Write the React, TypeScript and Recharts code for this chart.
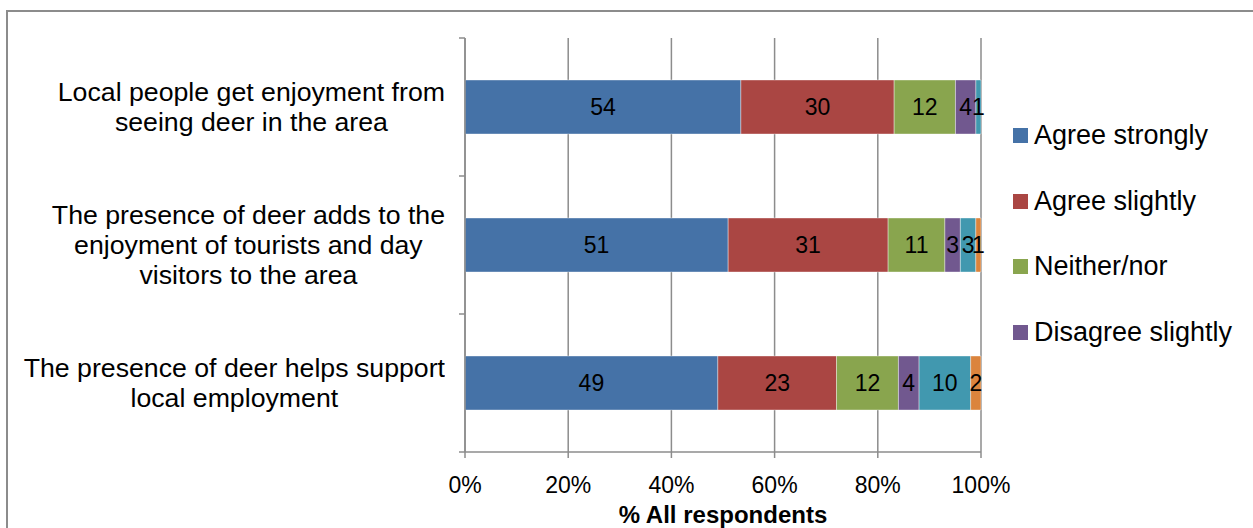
import { Bar, BarChart, CartesianGrid, LabelList, XAxis, YAxis } from 'recharts'

const statements = [
	'Local people get enjoyment from\nseeing deer in the area',
	'The presence of deer adds to the\nenjoyment of tourists and day\nvisitors to the area',
	'The presence of deer helps support\nlocal employment'
]

const agreeStrongly = [54, 51, 49]
const agreeSlightly = [30, 31, 23]
const neitherNor = [12, 11, 12]
const disagreeSlightly = [4, 3, 4]
const disagreeStrongly = [1, 3, 10]
const dontKnow = [0, 1, 2]

const percentTicks = [0, 0.2, 0.4, 0.6, 0.8, 1]

const series = [
	{ key: 'agreeStrongly', name: 'Agree strongly', color: '#4572A7', values: agreeStrongly },
	{ key: 'agreeSlightly', name: 'Agree slightly', color: '#AA4643', values: agreeSlightly },
	{ key: 'neitherNor', name: 'Neither/nor', color: '#89A54E', values: neitherNor },
	{ key: 'disagreeSlightly', name: 'Disagree slightly', color: '#71588F', values: disagreeSlightly },
	{ key: 'disagreeStrongly', name: 'Disagree strongly', color: '#4198AF', values: disagreeStrongly },
	{ key: 'dontKnow', name: "Don't know", color: '#DB843D', values: dontKnow }
]

// only the first four entries fit in the legend box
const legendSeries = series.slice(0, 4)

const rows = statements.map((statement, i) => {
	const row: Record<string, string | number> = { statement }
	series.forEach(s => {
		row[s.key] = s.values[i]
	})
	return row
})

const GREY = '#8c8c8c'
const FONT = '"Liberation Sans", Arial, sans-serif'

// statement text: centred lines, block pushed right against the axis;
// tick marks sit on the band edges
function StatementTick(props: any) {
	const { x, y, payload, index, visibleTicksCount } = props
	const lines = String(payload.value).split('\n')
	const half = payload.offset ?? 0
	const lineGap = 30
	const boxH = lines.length * lineGap
	return (
		<g>
			<line x1={x - 6} x2={x} y1={y - half} y2={y - half} stroke={GREY} strokeWidth={1.5} />
			{index === visibleTicksCount - 1 && (
				<line x1={x - 6} x2={x} y1={y + half} y2={y + half} stroke={GREY} strokeWidth={1.5} />
			)}
			<foreignObject x={0} y={y - boxH / 2} width={x - 20} height={boxH}>
				<div style={{ display: 'flex', justifyContent: 'flex-end', height: '100%' }}>
					<div
						style={{
							textAlign: 'center',
							fontFamily: FONT,
							fontSize: 26.7,
							lineHeight: `${lineGap}px`,
							color: '#000',
							whiteSpace: 'nowrap'
						}}
					>
						{lines.map((line, i) => (
							<div key={i}>{line}</div>
						))}
					</div>
				</div>
			</foreignObject>
		</g>
	)
}

function SideLegend() {
	return (
		<div
			style={{
				position: 'absolute',
				left: 1013,
				top: 103,
				fontFamily: FONT,
				fontSize: 27,
				color: '#000',
				whiteSpace: 'nowrap'
			}}
		>
			{legendSeries.map(s => (
				<div key={s.key} style={{ height: 65.5, display: 'flex', alignItems: 'center' }}>
					<span style={{ width: 15, height: 15, background: s.color, marginRight: 6, display: 'inline-block' }} />
					<span>{s.name}</span>
				</div>
			))}
		</div>
	)
}

export default function App() {
	return (
		<div style={{ position: 'absolute', left: 0, top: 0, width: 1253, height: 528, background: '#fff' }}>
			<div
				style={{
					position: 'absolute',
					left: 6,
					top: 10,
					width: 1247,
					height: 518,
					boxSizing: 'border-box',
					borderLeft: `2px solid ${GREY}`,
					borderTop: `2px solid ${GREY}`
				}}
			/>
			<BarChart
				width={1253}
				height={528}
				data={rows}
				layout='vertical'
				stackOffset='expand'
				barSize={54}
				margin={{ top: 38, right: 272, bottom: 0, left: 7 }}
				style={{ position: 'absolute', left: 0, top: 0 }}
			>
				<CartesianGrid horizontal={false} stroke={GREY} strokeWidth={1.5} />
				<XAxis
					type='number'
					domain={[0, 1]}
					ticks={percentTicks}
					tickFormatter={v => `${Math.round(v * 100)}%`}
					height={76}
					tickSize={6}
					tickMargin={19}
					axisLine={{ stroke: GREY, strokeWidth: 1.5 }}
					tickLine={{ stroke: GREY, strokeWidth: 1.5 }}
					tick={{ fill: '#000', fontSize: 23, fontFamily: FONT }}
					label={{
						value: '% All respondents',
						position: 'insideBottom',
						offset: 5,
						fill: '#000',
						fontSize: 24,
						fontWeight: 'bold',
						fontFamily: FONT
					}}
				/>
				<YAxis
					type='category'
					dataKey='statement'
					width={458}
					tickSize={0}
					tickMargin={0}
					tickLine={false}
					axisLine={{ stroke: GREY, strokeWidth: 1.5 }}
					tick={<StatementTick />}
					interval={0}
				/>
				{series.map(s => (
					<Bar
						key={s.key}
						dataKey={s.key}
						name={s.name}
						stackId='all'
						fill={s.color}
						stroke='#ffffff'
						strokeOpacity={0.5}
						strokeWidth={0.75}
						isAnimationActive={false}
					>
						<LabelList
							dataKey={s.key}
							position='center'
							fill='#000'
							fontSize={23}
							fontFamily={FONT}
							formatter={(v: any) => (v ? v : '')}
						/>
					</Bar>
				))}
			</BarChart>
			<SideLegend />
		</div>
	)
}
